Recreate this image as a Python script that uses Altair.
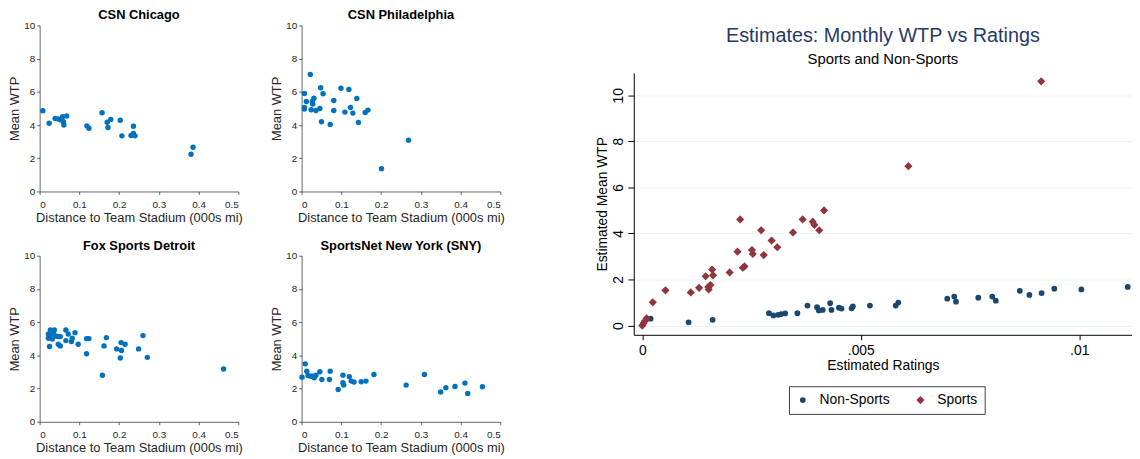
import altair as alt
import pandas as pd

# ---------------- data: left panels (distance in 000s mi, mean WTP) ----------------
chicago_dist = [0.008, 0.024, 0.039, 0.047, 0.053, 0.058, 0.060, 0.061, 0.068, 0.119, 0.124,
                0.157, 0.170, 0.172, 0.179, 0.203, 0.207, 0.230, 0.236, 0.236, 0.240, 0.381, 0.386]
chicago_wtp = [4.86, 4.11, 4.40, 4.37, 4.31, 4.50, 4.20, 4.00, 4.54, 3.95, 3.81,
               4.74, 4.17, 3.85, 4.33, 4.29, 3.35, 3.37, 3.93, 3.49, 3.35, 2.24, 2.66]

phil_dist = [0.007, 0.007, 0.007, 0.012, 0.022, 0.024, 0.027, 0.028, 0.031, 0.036, 0.046, 0.048,
             0.050, 0.054, 0.072, 0.081, 0.081, 0.099, 0.109, 0.119, 0.123, 0.129, 0.139, 0.143,
             0.160, 0.167, 0.201, 0.269]
phil_wtp = [5.90, 5.06, 4.96, 5.42, 7.05, 4.92, 5.42, 5.26, 5.62, 4.88, 5.00, 6.25,
            4.20, 5.88, 4.04, 5.48, 4.88, 6.22, 4.78, 6.14, 5.06, 4.72, 5.60, 4.16,
            4.76, 4.90, 1.37, 3.09]

detroit_dist = [0.022, 0.022, 0.027, 0.025, 0.029, 0.032, 0.035, 0.037, 0.041, 0.046, 0.047, 0.052,
                0.052, 0.066, 0.066, 0.072, 0.080, 0.082, 0.089, 0.097, 0.118, 0.118, 0.124, 0.158,
                0.162, 0.168, 0.194, 0.203, 0.205, 0.206, 0.215, 0.249, 0.260, 0.271, 0.463]
detroit_wtp = [5.29, 5.03, 5.53, 4.53, 5.17, 4.99, 5.43, 5.53, 5.17, 5.13, 4.67, 5.13,
               4.57, 5.53, 4.89, 5.29, 4.83, 5.03, 5.37, 4.67, 4.10, 5.01, 5.01, 2.80,
               4.57, 5.07, 4.39, 3.84, 4.77, 4.29, 4.67, 4.39, 5.19, 3.88, 3.18]

sny_dist = [0.001, 0.009, 0.013, 0.016, 0.022, 0.027, 0.032, 0.036, 0.046, 0.051, 0.070, 0.072,
            0.092, 0.104, 0.104, 0.106, 0.120, 0.125, 0.132, 0.150, 0.162, 0.182, 0.263, 0.309,
            0.350, 0.363, 0.386, 0.411, 0.418, 0.455]
sny_wtp = [2.69, 3.49, 3.05, 2.79, 2.75, 2.75, 2.65, 2.81, 3.01, 2.55, 2.55, 3.05,
           1.95, 2.81, 2.35, 2.21, 2.71, 2.45, 2.39, 2.41, 2.45, 2.85, 2.21, 2.85,
           1.79, 2.05, 2.13, 2.33, 1.71, 2.11]

panel_titles = ["CSN Chicago", "CSN Philadelphia", "Fox Sports Detroit", "SportsNet New York (SNY)"]
small_x_ticks = [0, 0.1, 0.2, 0.3, 0.4, 0.5]
small_y_ticks = [0, 2, 4, 6, 8, 10]

# ---------------- data: right panel (estimated ratings, estimated mean WTP) ----------------
nonsports_rating = [0.00019, 0.00106, 0.00161, 0.00290, 0.00300, 0.00311, 0.00318, 0.00327, 0.00355,
                    0.00378, 0.00400, 0.00404, 0.00413, 0.00430, 0.00433, 0.00450, 0.00456, 0.00479,
                    0.00482, 0.00521, 0.00580, 0.00586, 0.00698, 0.00714, 0.00718, 0.00769, 0.00801,
                    0.00809, 0.00864, 0.00886, 0.00914, 0.00943, 0.01005, 0.01111]
nonsports_wtp = [0.30, 0.14, 0.25, 0.54, 0.44, 0.47, 0.50, 0.53, 0.54,
                 0.87, 0.80, 0.66, 0.68, 0.97, 0.68, 0.78, 0.74, 0.75,
                 0.83, 0.87, 0.87, 1.00, 1.17, 1.26, 1.04, 1.21, 1.26,
                 1.08, 1.51, 1.33, 1.41, 1.60, 1.57, 1.68]

sports_rating = [0.00000, 0.00003, 0.00006, 0.00010, 0.00024, 0.00053, 0.00111, 0.00130, 0.00145,
                 0.00151, 0.00156, 0.00152, 0.00160, 0.00162, 0.00200, 0.00218, 0.00224, 0.00230,
                 0.00234, 0.00251, 0.00253, 0.00272, 0.00278, 0.00296, 0.00309, 0.00345, 0.00367,
                 0.00390, 0.00394, 0.00405, 0.00416, 0.00609, 0.00913]
sports_wtp = [0.00, 0.10, 0.20, 0.32, 1.01, 1.53, 1.44, 1.64, 2.14,
              1.68, 1.76, 1.57, 2.43, 2.18, 2.31, 3.21, 4.61, 2.51,
              2.57, 3.28, 3.11, 4.14, 3.06, 3.69, 3.40, 4.04, 4.61,
              4.51, 4.37, 4.14, 5.00, 6.92, 10.60]

groups = ["Non-Sports", "Sports"]
right_x_ticks = [0, 0.005, 0.01]
right_x_labels = ["0", ".005", ".01"]
right_y_ticks = [0, 2, 4, 6, 8, 10]

FONT = "Liberation Sans"
MBLUE = "#0072BD"
AXC = "#262626"


def small_panel(title, dist, wtp):
    df = pd.DataFrame({"dist": dist, "wtp": wtp})
    return (
        alt.Chart(df, title=alt.TitleParams(title, fontSize=13, fontWeight="bold", offset=-2,
                                            frame="group", color="#000000", font=FONT))
        .mark_circle(size=30, opacity=1, color=MBLUE)
        .encode(
            x=alt.X("dist:Q", scale=alt.Scale(domain=[0, 0.5], nice=False, zero=False),
                    axis=alt.Axis(values=small_x_ticks, format=".1~f",
                                  title="Distance to Team Stadium (000s mi)",
                                  labelPadding=5, titlePadding=2)),
            y=alt.Y("wtp:Q", scale=alt.Scale(domain=[0, 10], nice=False),
                    axis=alt.Axis(values=small_y_ticks, title="Mean WTP",
                                  labelPadding=2, titlePadding=2)),
        )
        .properties(width=201, height=168)
    )


p1 = small_panel(panel_titles[0], chicago_dist, chicago_wtp)
p2 = small_panel(panel_titles[1], phil_dist, phil_wtp)
p3 = small_panel(panel_titles[2], detroit_dist, detroit_wtp)
p4 = small_panel(panel_titles[3], sny_dist, sny_wtp)

left = alt.vconcat(
    alt.hconcat(p1, p2, spacing=64, bounds="flush"),
    alt.hconcat(p3, p4, spacing=64, bounds="flush"),
    spacing=16,
)

# right panel
rdf = pd.DataFrame({
    "rating": nonsports_rating + sports_rating,
    "wtp": nonsports_wtp + sports_wtp,
    "group": [groups[0]] * len(nonsports_rating) + [groups[1]] * len(sports_rating),
})

label_expr = " : ".join(
    f"abs(datum.value - {v}) < 1e-9 ? '{lab}'" for v, lab in zip(right_x_ticks, right_x_labels)
) + " : ''"

legend_kw = dict(title=None, orient="none", legendX=758, legendY=365,
                 direction="horizontal", strokeColor="#404040", fillColor="#ffffff", padding=7,
                 labelFontSize=14, labelColor="#000000", labelFont=FONT,
                 symbolSize=45, labelOffset=10, columnPadding=24, symbolStrokeWidth=0)

right_plot = (
    alt.Chart(rdf, title=alt.TitleParams(
        "Estimates: Monthly WTP vs Ratings", subtitle="Sports and Non-Sports",
        fontSize=20, fontWeight="normal", color="#26386a", subtitleFontSize=15,
        subtitleColor="#000000", subtitlePadding=6, offset=6, anchor="middle", font=FONT,
        subtitleFont=FONT))
    .mark_point(filled=True, opacity=1)
    .encode(
        x=alt.X("rating:Q", scale=alt.Scale(domain=[-0.000195, 0.011208], nice=False, zero=False),
                axis=alt.Axis(values=right_x_ticks, labelExpr=label_expr, title="Estimated Ratings",
                              domainColor="#000000", domainWidth=1, tickColor="#000000",
                              tickSize=5, tickWidth=1, labelFontSize=14, labelColor="#000000",
                              labelPadding=4, titleFontSize=14, titleColor="#000000",
                              titlePadding=1, grid=False)),
        y=alt.Y("wtp:Q", scale=alt.Scale(domain=[-0.4, 10.97], nice=False, zero=False),
                axis=alt.Axis(values=right_y_ticks, title="Estimated Mean WTP",
                              domainColor="#000000", domainWidth=1, tickColor="#000000",
                              tickSize=6, tickWidth=1, labelFontSize=14, labelColor="#000000",
                              labelPadding=2, labelAngle=270, labelAlign="center",
                              labelBaseline="bottom", titleFontSize=14, titleColor="#000000",
                              titlePadding=3, grid=True, gridColor="#eaf2f3", gridWidth=1)),
        color=alt.Color("group:N", scale=alt.Scale(domain=groups, range=["#1a476f", "#90353b"]),
                        legend=alt.Legend(**legend_kw)),
        shape=alt.Shape("group:N", scale=alt.Scale(domain=groups, range=["circle", "diamond"]),
                        legend=alt.Legend(**legend_kw)),
        size=alt.Size("group:N", scale=alt.Scale(domain=groups, range=[34, 68]), legend=None),
    )
    .properties(width=504, height=265)
)

spacer = (
    alt.Chart(pd.DataFrame({"v": [0]}))
    .mark_point(opacity=0)
    .encode(x=alt.X("v:Q", axis=None), y=alt.Y("v:Q", axis=None))
    .properties(width=504, height=48)
)

right = alt.vconcat(spacer, right_plot, spacing=0, bounds="flush")

chart = (
    alt.hconcat(left, right, spacing=91)
    .properties(padding={"left": 0, "top": -1, "right": 0, "bottom": 0})
    .configure(font=FONT)
    .configure_view(strokeWidth=0)
    .configure_axis(domainColor=AXC, domainWidth=0.7, tickColor=AXC, tickSize=3, tickWidth=0.7,
                    labelFontSize=10, labelColor=AXC, titleFontSize=13, titleFontWeight="normal",
                    titleColor=AXC, grid=False, labelFont=FONT, titleFont=FONT)
)

chart.save("out.html", embed_options={"renderer": "svg", "actions": False})
